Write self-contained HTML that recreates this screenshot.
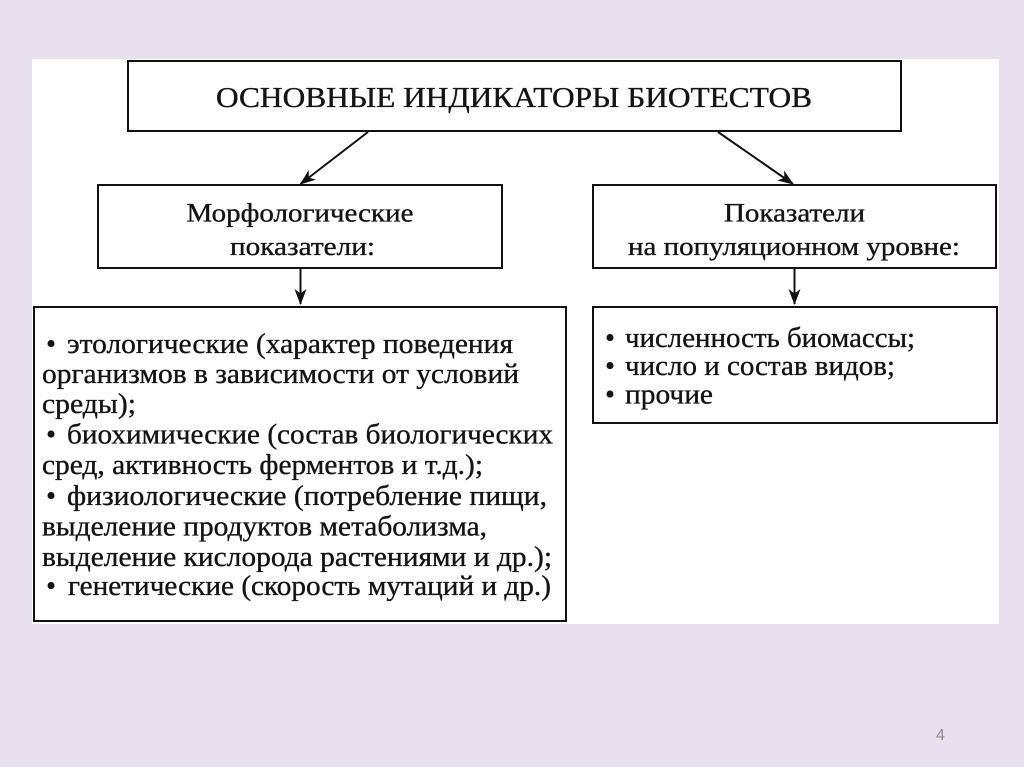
<!DOCTYPE html>
<html>
<head>
<meta charset="utf-8">
<style>
  html, body { margin:0; padding:0; background:#e8e0ef; }
  body { width:1024px; height:767px; overflow:hidden; }
  svg { display:block; }
  .t { font-family: "Liberation Serif", "Noto Serif CJK SC", serif; fill:#141414; stroke:#141414; stroke-width:0.35; }
</style>
</head>
<body>
<svg width="1024" height="767" viewBox="0 0 1024 767" xmlns="http://www.w3.org/2000/svg">
  <defs>
    <marker id="ah" viewBox="0 0 16 12" refX="15" refY="6" markerWidth="16" markerHeight="12" markerUnits="userSpaceOnUse" orient="auto">
      <path d="M0,0 L16,6 L0,12 L4.5,6 Z" fill="#111"/>
    </marker>
  </defs>

  <rect x="0" y="0" width="1024" height="767" fill="#e8e0ef"/>
  <rect x="32" y="59" width="967" height="565" fill="#ffffff"/>

  <!-- Title box -->
  <rect x="128" y="61" width="773" height="70" fill="#fff" stroke="#111" stroke-width="2"/>
  <text class="t" x="216" y="107" font-size="28" textLength="596" lengthAdjust="spacingAndGlyphs">ОСНОВНЫЕ ИНДИКАТОРЫ БИОТЕСТОВ</text>

  <!-- diagonal arrows -->
  <line x1="368" y1="132" x2="300.5" y2="184" stroke="#111" stroke-width="2" marker-end="url(#ah)"/>
  <line x1="718" y1="132" x2="793" y2="184" stroke="#111" stroke-width="2" marker-end="url(#ah)"/>

  <!-- Morph box -->
  <rect x="98" y="185" width="404" height="83" fill="#fff" stroke="#111" stroke-width="2"/>
  <text class="t" x="186.5" y="221.5" font-size="26" textLength="227" lengthAdjust="spacingAndGlyphs">Морфологические</text>
  <text class="t" x="230" y="255" font-size="26" textLength="145" lengthAdjust="spacingAndGlyphs">показатели:</text>

  <!-- Population box -->
  <rect x="593" y="185" width="403" height="83" fill="#fff" stroke="#111" stroke-width="2"/>
  <text class="t" x="724" y="221.5" font-size="26" textLength="141" lengthAdjust="spacingAndGlyphs">Показатели</text>
  <text class="t" x="628" y="255" font-size="26" textLength="332" lengthAdjust="spacingAndGlyphs">на популяционном уровне:</text>

  <!-- down arrows -->
  <line x1="300.5" y1="269" x2="300.5" y2="304" stroke="#111" stroke-width="2" marker-end="url(#ah)"/>
  <line x1="794.5" y1="269" x2="794.5" y2="304" stroke="#111" stroke-width="2" marker-end="url(#ah)"/>

  <!-- Big left box -->
  <rect x="34" y="307" width="532" height="314" fill="#fff" stroke="#111" stroke-width="2"/>
  <g font-size="28">
    <text class="t" x="51" y="353" text-anchor="middle">•</text>
    <text class="t" x="67" y="353" textLength="446" lengthAdjust="spacingAndGlyphs">этологические (характер поведения</text>
    <text class="t" x="42" y="383" textLength="477" lengthAdjust="spacingAndGlyphs">организмов в зависимости от условий</text>
    <text class="t" x="42" y="413" textLength="94" lengthAdjust="spacingAndGlyphs">среды);</text>
    <text class="t" x="51" y="443.5" text-anchor="middle">•</text>
    <text class="t" x="67" y="443.5" textLength="486" lengthAdjust="spacingAndGlyphs">биохимические (состав биологических</text>
    <text class="t" x="42" y="474" textLength="441" lengthAdjust="spacingAndGlyphs">сред, активность ферментов и т.д.);</text>
    <text class="t" x="51" y="505" text-anchor="middle">•</text>
    <text class="t" x="67" y="505" textLength="480" lengthAdjust="spacingAndGlyphs">физиологические (потребление пищи,</text>
    <text class="t" x="42" y="535.5" textLength="445" lengthAdjust="spacingAndGlyphs">выделение продуктов метаболизма,</text>
    <text class="t" x="42" y="566" textLength="510" lengthAdjust="spacingAndGlyphs">выделение кислорода растениями и др.);</text>
    <text class="t" x="51" y="595" text-anchor="middle">•</text>
    <text class="t" x="68" y="595" textLength="483" lengthAdjust="spacingAndGlyphs">генетические (скорость мутаций и др.)</text>
  </g>

  <!-- Right bottom box -->
  <rect x="593" y="307" width="404" height="116" fill="#fff" stroke="#111" stroke-width="2"/>
  <g font-size="28">
    <text class="t" x="610" y="347" text-anchor="middle">•</text>
    <text class="t" x="625" y="347" textLength="290" lengthAdjust="spacingAndGlyphs">численность биомассы;</text>
    <text class="t" x="610" y="375" text-anchor="middle">•</text>
    <text class="t" x="625" y="375" textLength="270" lengthAdjust="spacingAndGlyphs">число и состав видов;</text>
    <text class="t" x="610" y="403.5" text-anchor="middle">•</text>
    <text class="t" x="625" y="403.5" textLength="88" lengthAdjust="spacingAndGlyphs">прочие</text>
  </g>

  <!-- page number -->
  <text x="940.5" y="740" font-size="16" text-anchor="middle" fill="#8a8a8a" font-family="Liberation Sans, sans-serif">4</text>
</svg>
</body>
</html>
